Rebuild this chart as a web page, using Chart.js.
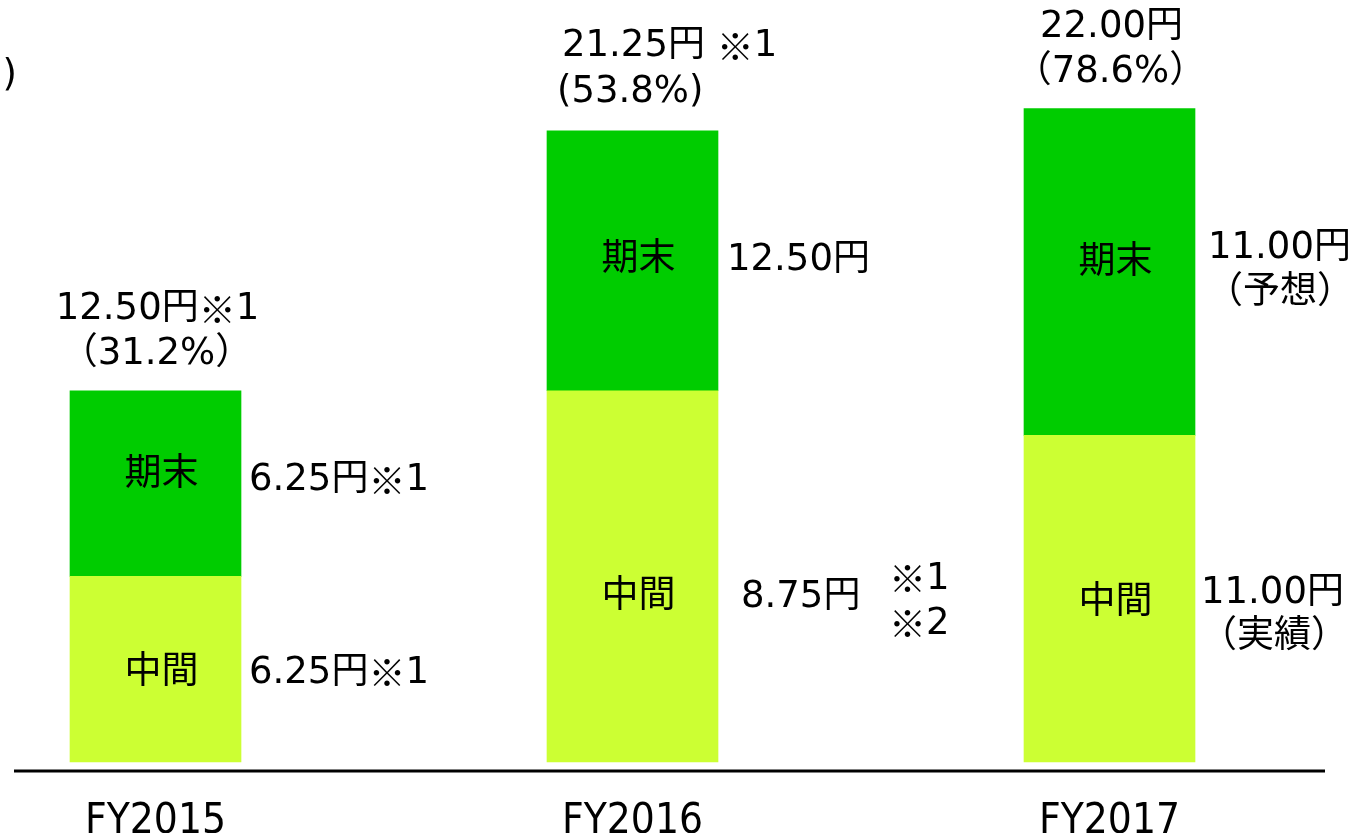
<!DOCTYPE html>
<html>
<head>
<meta charset="utf-8">
<script src="https://cdn.jsdelivr.net/npm/chart.js@4"></script>
<style>
  html, body { margin: 0; padding: 0; background: #fff; }
  #wrap { width: 1352px; height: 833px; }
</style>
</head>
<body>
<div id="wrap"><canvas id="chart" width="1352" height="833"></canvas></div>
<script>
// years on the x axis
const years = ['FY2015', 'FY2016', 'FY2017'];

// segment sizes as drawn in the picture (yen)
const lowerSeg = [6.25, 12.5, 11.0];
const upperSeg = [6.25, 8.75, 11.0];

// label texts
const segNames = ['中間', '期末'];
const totalText = [['12.50円※1', '（31.2%）'], ['21.25円 ※1', '(53.8%)'], ['22.00円', '（78.6%）']];
const upperText = [['6.25円※1'], ['12.50円'], ['11.00円', '（予想）']];
const lowerText = [['6.25円※1'], ['8.75円'], ['11.00円', '（実績）']];

const LIGHT = '#ccff33';
const DARK = '#00cc00';
const SIZE = 37;
const LATIN = SIZE + 'px "DejaVu Sans", "Noto Sans CJK JP", sans-serif';
const CJK = SIZE + 'px "Noto Sans CJK JP", sans-serif';

// draw a string, with ※ taken from the CJK font so it is full width
function drawText(ctx, str, x, y, align) {
    const parts = str.split(/(※)/).filter(p => p.length);
    const fonts = parts.map(p => p === '※' ? CJK : LATIN);
    let widths = parts.map((p, k) => { ctx.font = fonts[k]; return ctx.measureText(p).width; });
    const total = widths.reduce((a, b) => a + b, 0);
    let cx = align === 'center' ? x - total / 2 : x;
    ctx.textAlign = 'left';
    parts.forEach((p, k) => {
        ctx.font = fonts[k];
        ctx.fillText(p, cx, y);
        cx += widths[k];
    });
}

// draws the text around the bars
const labelPlugin = {
    id: 'labels',
    afterDatasetsDraw(chart) {
        const ctx = chart.ctx;
        const lowBars = chart.getDatasetMeta(0).data;
        const upBars = chart.getDatasetMeta(1).data;
        ctx.save();
        ctx.fillStyle = '#000';
        ctx.textBaseline = 'middle';

        lowBars.forEach((low, i) => {
            const up = upBars[i];
            const half = low.width / 2;
            const right = low.x + half;
            const lowMid = (low.y + low.base) / 2;
            const upMid = (up.y + up.base) / 2;

            // names inside the segments
            drawText(ctx, segNames[0], low.x + 6, lowMid + [4, 21, 5][i], 'center');
            drawText(ctx, segNames[1], up.x + 6, upMid + [-8, 0, -9][i], 'center');

            // totals above the bars
            const tt = totalText[i];
            if (i === 1) {
                drawText(ctx, tt[0], low.x - half + 15, up.y - 84, 'left');
                drawText(ctx, tt[1], low.x - half + 10, up.y - 38, 'left');
            } else {
                drawText(ctx, tt[0], low.x + 2, up.y - 81, 'center');
                drawText(ctx, tt[1], low.x + 1, up.y - 36, 'center');
            }

            // values to the right of the segments
            if (i === 0) {
                drawText(ctx, upperText[i][0], right + 8, upMid - 3, 'left');
                drawText(ctx, lowerText[i][0], right + 8, lowMid + 4, 'left');
            } else if (i === 1) {
                drawText(ctx, upperText[i][0], right + 9, upMid, 'left');
                drawText(ctx, lowerText[i][0], right + 23, lowMid + 21, 'left');
                drawText(ctx, '※1', right + 171, lowMid + 3, 'left');
                drawText(ctx, '※2', right + 171, lowMid + 48, 'left');
            } else {
                drawText(ctx, upperText[i][0], right + 13, upMid - 24, 'left');
                drawText(ctx, upperText[i][1], right + 85, upMid + 21, 'center');
                drawText(ctx, lowerText[i][0], right + 6, lowMid - 5, 'left');
                drawText(ctx, lowerText[i][1], right + 79, lowMid + 39, 'center');
            }
        });

        // base line under the bars
        const yb = chart.scales.y.getPixelForValue(0) + 9;
        ctx.strokeStyle = '#000';
        ctx.lineWidth = 3;
        ctx.beginPath();
        ctx.moveTo(14, yb);
        ctx.lineTo(1325, yb);
        ctx.stroke();

        // unit label, cut off at the left edge
        ctx.font = LATIN;
        ctx.textAlign = 'right';
        ctx.fillText('(円)', 17, 76);
        ctx.fillText('円', 3, 28);
        ctx.restore();
    }
};

new Chart(document.getElementById('chart'), {
    type: 'bar',
    data: {
        labels: years,
        datasets: [
            { label: segNames[0], data: lowerSeg, backgroundColor: LIGHT, barThickness: 171, clip: false },
            { label: segNames[1], data: upperSeg, backgroundColor: DARK, barThickness: 171, clip: false }
        ]
    },
    options: {
        responsive: false,
        animation: false,
        layout: { padding: { left: 155.5, right: 242.5, top: 19.5, bottom: 0 } },
        plugins: { legend: { display: false }, tooltip: { enabled: false } },
        scales: {
            x: {
                stacked: true,
                offset: false,
                grid: { display: false, drawTicks: false },
                border: { display: false },
                ticks: {
                    maxRotation: 0,
                    padding: 35,
                    color: '#000',
                    font: { family: '"DejaVu Sans Condensed", "Liberation Sans Narrow", sans-serif', size: 42 }
                },
                afterFit(scale) { scale.height = 71; }
            },
            y: {
                stacked: true,
                display: false,
                min: 0,
                max: 25
            }
        }
    },
    plugins: [labelPlugin]
});
</script>
</body>
</html>
